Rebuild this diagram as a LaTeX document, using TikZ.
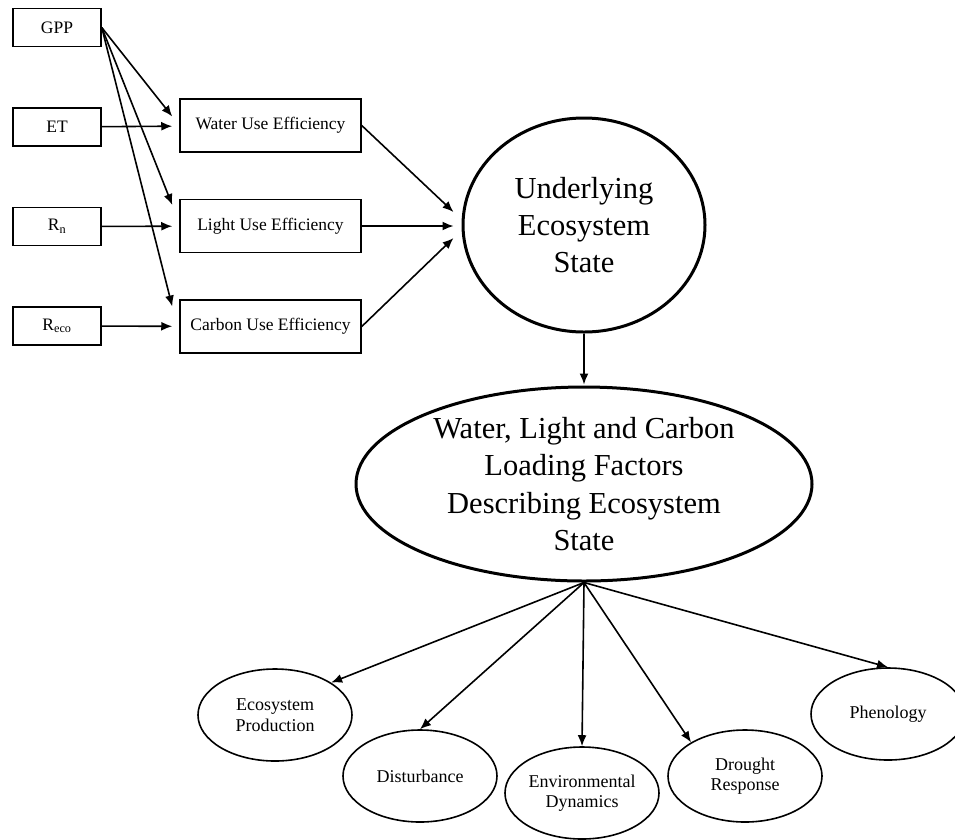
\documentclass[tikz,border=0pt]{standalone}
\usepackage{fontspec}
\setmainfont{Liberation Serif}
\usepackage{tikz}
\usetikzlibrary{arrows.meta,calc,shapes.geometric}
\tikzstyle{obs} = [rectangle, draw, fill=white, line width=1.5pt, minimum width=88pt, minimum height=38pt, font=\fontsize{17.5}{20}\selectfont]
\tikzstyle{eff} = [rectangle, draw, fill=white, line width=1.5pt, minimum width=181pt, minimum height=53pt, font=\fontsize{17.5}{20}\selectfont]
\tikzstyle{latent} = [ellipse, draw, line width=3pt, inner sep=0pt, align=center]
\tikzstyle{proc} = [ellipse, draw, line width=1.6pt, minimum width=154pt, minimum height=92pt, inner sep=0pt, align=center, font=\fontsize{18}{20.5}\selectfont]

\begin{document}
\begin{tikzpicture}[x=1pt,y=-1pt,->,>={Latex[length=11pt,width=9pt]},line width=1.6pt,node distance=99.5pt]
  \useasboundingbox (0,0) rectangle (955,839);
  \node[obs] (GPP) at (57,27.5) {GPP};
  \node[obs] (ET) [below of=GPP] {ET};
  \node[obs] (R_n) [below of=ET] {R\textsubscript{n}};
  \node[obs] (R_eco) [below of=R_n] {R\textsubscript{eco}};
  \node[eff] (WUE) at (270.5,125.5) {Water Use Efficiency};
  \node[eff] (LUE) [below of=WUE, node distance=100.5pt] {Light Use Efficiency};
  \node[eff] (CUE) [below of=LUE, node distance=100.5pt] {Carbon Use Efficiency};
  \node[latent, minimum width=242pt, minimum height=214pt, font=\fontsize{30.5}{37}\selectfont] (State) at (584,225) {Underlying\\Ecosystem\\State};
  \node[latent, minimum width=456pt, minimum height=194pt, font=\fontsize{30.5}{37.5}\selectfont] (Loading) at (584,484) {Water, Light and Carbon\\Loading Factors\\Describing Ecosystem\\State};
  \node[proc] (Prod) at (275,715) {Ecosystem\\Production};
  \node[proc] (Dist) at (420,776) {Disturbance};
  \node[proc] (EnvDyn) at (582,793) {Environmental\\Dynamics};
  \node[proc] (Drought) at (745,776) {Drought\\Response};
  \node[proc] (Pheno) at (888,714) {Phenology};

  \path (GPP.east) edge ($(WUE.west)+(-7,-9)$);
  \path (GPP.east) edge ($(LUE.west)+(-7,-21)$);
  \path (GPP.east) edge ($(CUE.west)+(-7,-20)$);
  \path (ET) edge[shorten >=7pt] (WUE);
  \path (R_n) edge[shorten >=7pt] (LUE);
  \path (R_eco) edge[shorten >=7pt] (CUE);
  \path (WUE.east) edge ($(State.west)+(-8,-13)$);
  \path (LUE.east) edge ($(State.west)+(-8,1)$);
  \path (CUE.east) edge ($(State.west)+(-8,13)$);
  \path (State) edge[shorten >=1pt] (Loading);
  \path (Loading.south) edge (Prod.30);
  \path (Loading.south) edge (Dist.north);
  \path (Loading.south) edge (EnvDyn.north);
  \path (Loading.south) edge (Drought.148);
  \path (Loading.south) edge (Pheno.north);
\end{tikzpicture}
\end{document}
